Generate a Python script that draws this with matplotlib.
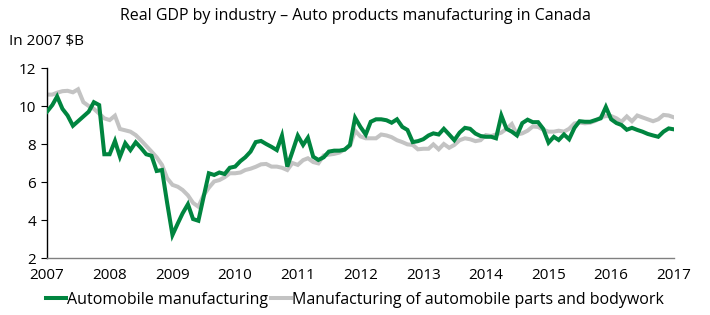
import matplotlib
matplotlib.use("Agg")
import matplotlib.pyplot as plt
import pandas as pd

plt.rcParams['font.family'] = ['Open Sans', 'DejaVu Sans']

title = "Real GDP by industry \u2013 Auto products manufacturing in Canada"
unit_label = "In 2007 \\$B"
series_names = ["Automobile manufacturing",
                "Manufacturing of automobile parts and bodywork"]

start_month = "2007-01-01"

auto_mfg = [
    9.70, 10.05, 10.50, 9.85, 9.50, 8.96, 9.20, 9.45, 9.70, 10.20,
    10.05, 7.46, 7.46, 8.16, 7.33, 8.04, 7.68, 8.09, 7.80, 7.46,
    7.38, 6.58, 6.63, 4.90, 3.21, 3.82, 4.35, 4.83, 4.05, 3.96,
    5.20, 6.46, 6.37, 6.50, 6.42, 6.75, 6.81, 7.10, 7.30, 7.60,
    8.10, 8.16, 8.00, 7.85, 7.68, 8.44, 6.81, 7.60, 8.44, 7.95,
    8.33, 7.33, 7.16, 7.30, 7.60, 7.65, 7.65, 7.70, 7.95, 9.38,
    8.90, 8.50, 9.17, 9.30, 9.30, 9.25, 9.12, 9.30, 8.90, 8.74,
    8.10, 8.15, 8.25, 8.45, 8.56, 8.50, 8.80, 8.50, 8.20, 8.60,
    8.85, 8.80, 8.55, 8.42, 8.38, 8.38, 8.30, 9.50, 8.80, 8.65,
    8.45, 9.10, 9.28, 9.15, 9.15, 8.80, 8.07, 8.38, 8.21, 8.50,
    8.25, 8.85, 9.20, 9.17, 9.17, 9.26, 9.35, 9.95, 9.30, 9.10,
    9.00, 8.75, 8.85, 8.74, 8.65, 8.53, 8.45, 8.38, 8.65, 8.82,
    8.77,
]

parts_mfg = [
    10.60, 10.60, 10.70, 10.78, 10.80, 10.72, 10.88, 10.20, 10.00, 9.85,
    9.60, 9.35, 9.26, 9.49, 8.79, 8.72, 8.65, 8.47, 8.20, 7.90,
    7.60, 7.30, 6.90, 6.20, 5.85, 5.75, 5.58, 5.30, 4.90, 4.70,
    5.30, 5.70, 6.03, 6.10, 6.25, 6.46, 6.46, 6.50, 6.63, 6.70,
    6.80, 6.93, 6.95, 6.81, 6.81, 6.75, 6.63, 7.00, 6.90, 7.15,
    7.25, 7.05, 6.98, 7.40, 7.44, 7.48, 7.55, 7.72, 7.90, 8.70,
    8.40, 8.30, 8.30, 8.30, 8.50, 8.45, 8.36, 8.20, 8.10, 7.98,
    7.95, 7.72, 7.75, 7.75, 7.98, 7.72, 8.00, 7.80, 7.95, 8.20,
    8.30, 8.25, 8.15, 8.20, 8.47, 8.42, 8.50, 8.60, 8.80, 9.05,
    8.50, 8.56, 8.70, 8.92, 8.90, 8.75, 8.65, 8.65, 8.70, 8.65,
    8.80, 9.08, 9.13, 9.09, 9.12, 9.22, 9.40, 9.47, 9.47, 9.35,
    9.17, 9.45, 9.20, 9.50, 9.40, 9.30, 9.20, 9.30, 9.53, 9.50,
    9.40,
]

y_ticks = [2, 4, 6, 8, 10, 12]
x_tick_years = list(range(2007, 2018))

green = "#00853F"
grey = "#C3C3C3"

dates = pd.date_range(start_month, periods=len(auto_mfg), freq="MS")

fig = plt.figure(figsize=(7.10, 3.15), dpi=100)
ax = fig.add_axes([47 / 710, 1 - 258 / 315, (674 - 47) / 710, (258 - 68) / 315])

ax.plot(dates, auto_mfg, color=green, lw=2.9, label=series_names[0],
        solid_joinstyle="miter", zorder=3)
ax.plot(dates, parts_mfg, color=grey, lw=2.9, label=series_names[1],
        solid_joinstyle="miter", zorder=2)

fs = 11
ax.set_xlim(dates[0], dates[-1])
ax.set_ylim(2, 12)
ax.set_yticks(y_ticks)
ax.set_yticklabels([str(v) for v in y_ticks], fontsize=fs)
xt = [pd.Timestamp(f"{y}-01-01") for y in x_tick_years]
ax.set_xticks(xt)
ax.set_xticklabels([str(y) for y in x_tick_years], fontsize=fs)

for s in ["top", "right"]:
    ax.spines[s].set_visible(False)
ax.spines["left"].set_color("black")
ax.spines["left"].set_linewidth(1.0)
ax.spines["bottom"].set_color("#808080")
ax.spines["bottom"].set_linewidth(1.0)
ax.tick_params(axis="y", direction="out", length=4, width=0.8, pad=4)
ax.tick_params(axis="x", length=0, pad=7)

fig.text(0.5, 1 - 16 / 315, title, ha="center", va="center", fontsize=11.5)
fig.text(9 / 710, 1 - 42 / 315, unit_label, ha="left", va="center", fontsize=fs)

leg = fig.legend(loc="center", bbox_to_anchor=(0.5, 1 - 300 / 315), ncol=2,
                 frameon=False, fontsize=11.5, handlelength=1.25,
                 handletextpad=0.05, columnspacing=0.2)

fig.savefig("out.png", dpi=100)
